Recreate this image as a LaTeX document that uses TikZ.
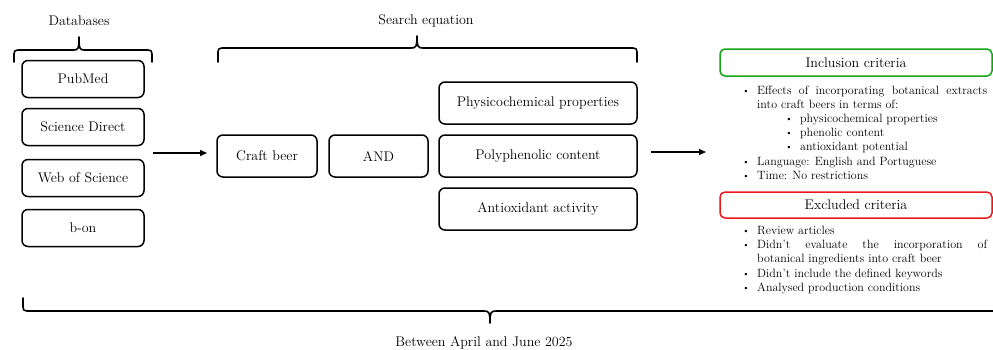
\documentclass[tikz,border=0pt]{standalone}
\usetikzlibrary{arrows.meta}
\definecolor{incgreen}{RGB}{20,165,20}
\definecolor{excred}{RGB}{235,25,25}
\newcommand{\bigfont}{\fontsize{14}{16}\selectfont}
\newcommand{\smallfont}{\fontsize{12}{14}\selectfont}
\newcommand{\blt}{\raisebox{0.4pt}{\fontsize{8.5}{8.5}\selectfont\textbullet}}
\begin{document}
\begin{tikzpicture}[x=1pt,y=-1pt,
  dbbox/.style={draw,line width=1.5pt,rounded corners=6pt,minimum width=122pt,minimum height=37pt,inner sep=0pt,font=\bigfont},
  eqbox/.style={draw,line width=1.5pt,rounded corners=6pt,minimum height=42pt,inner sep=0pt,font=\bigfont},
  critbox/.style={draw,line width=1.5pt,rounded corners=5pt,minimum width=272pt,minimum height=27pt,inner sep=0pt,font=\bigfont},
  label/.style={inner sep=0pt,font=\bigfont},
  listtxt/.style={anchor=base west,inner sep=0pt,font=\smallfont},
  bullet/.style={anchor=base,inner sep=0pt,font=\smallfont},
  brace/.style={line width=1.6pt,line cap=round,line join=round},
  arr/.style={line width=1.3pt,-{Triangle[length=7pt,width=6pt]}}]
\useasboundingbox (0,0) rectangle (993,349);

% Databases
\node[label] (dbl) at (79,21) {Databases};
\draw[brace] (14,62) -- (14,54) .. controls (14,51) and (15,50) .. (18,50) -- (74,50)
  .. controls (78,50) and (79,49) .. (79,37) .. controls (79,49) and (80,50) .. (84,50)
  -- (148,50) .. controls (151,50) and (152,51) .. (152,54) -- (152,62);
\node[dbbox] (pm) at (83,79) {PubMed};
\node[dbbox] (sd) at (83,127) {Science Direct};
\node[dbbox] (ws) at (83,178) {Web of Science};
\node[dbbox] (bo) at (83,228) {b-on};

\coordinate (a1s) at (153,153);
\coordinate (a1e) at (207,153);
\draw[arr] (a1s) -- (a1e);

% Search equation
\node[label] (sel) at (426,21) {Search equation};
\draw[brace] (218,62) -- (218,52) .. controls (218,49) and (219,48) .. (222,48) -- (411,48)
  .. controls (416,48) and (417,47) .. (417,36) .. controls (417,47) and (418,48) .. (423,48)
  -- (633,48) .. controls (636,48) and (637,49) .. (637,52) -- (637,62);
\node[eqbox,minimum width=100pt] (cb) at (267,156) {Craft beer};
\node[eqbox,minimum width=99pt] (and) at (378.5,156) {AND};
\node[eqbox,minimum width=198pt] (pp) at (538,103) {Physicochemical properties};
\node[eqbox,minimum width=198pt] (pc) at (538,156) {Polyphenolic content};
\node[eqbox,minimum width=198pt] (aa) at (538,209) {Antioxidant activity};

\coordinate (a2s) at (651,152);
\coordinate (a2e) at (706,152);
\draw[arr] (a2s) -- (a2e);

% Inclusion criteria
\node[critbox,draw=incgreen] (inc) at (856,62.5) {Inclusion criteria};
\node[bullet] (b1) at (746,94) {\blt};
\node[listtxt] (t1) at (757,94) {\makebox[230pt][s]{Effects of incorporating botanical extracts}};
\node[listtxt] (t1b) at (757,108) {into craft beers in terms of:};
\node[bullet] (b2) at (789,122) {\blt};
\node[listtxt] (t2) at (800,122) {physicochemical properties};
\node[bullet] (b3) at (789,136) {\blt};
\node[listtxt] (t3) at (800,136) {phenolic content};
\node[bullet] (b4) at (789,150) {\blt};
\node[listtxt] (t4) at (800,150) {antioxidant potential};
\node[bullet] (b5) at (746,165) {\blt};
\node[listtxt] (t5) at (757,165) {Language: English and Portuguese};
\node[bullet] (b6) at (746,179) {\blt};
\node[listtxt] (t6) at (757,179) {Time: No restrictions};

% Excluded criteria
\node[critbox,draw=excred,minimum height=26pt] (exc) at (856,205) {Excluded criteria};
\node[bullet] (e1b) at (746,234) {\blt};
\node[listtxt] (e1) at (757,234) {Review articles};
\node[bullet] (e2b) at (746,248) {\blt};
\node[listtxt] (e2) at (757,248) {\makebox[230pt][s]{Didn't evaluate the incorporation of}};
\node[listtxt] (e2c) at (757,262) {botanical ingredients into craft beer};
\node[bullet] (e3b) at (746,277) {\blt};
\node[listtxt] (e3) at (757,277) {Didn't include the defined keywords};
\node[bullet] (e4b) at (746,291) {\blt};
\node[listtxt] (e4) at (757,291) {Analysed production conditions};

% Bottom brace
\draw[brace] (23,298) -- (23,307) .. controls (23,310) and (24,311) .. (27,311) -- (484,311)
  .. controls (489,311) and (490,312) .. (490,323) .. controls (490,312) and (491,311) .. (496,311)
  -- (994,311);
\node[label,anchor=base] (per) at (484,346) {Between April and June 2025};
\end{tikzpicture}
\end{document}
